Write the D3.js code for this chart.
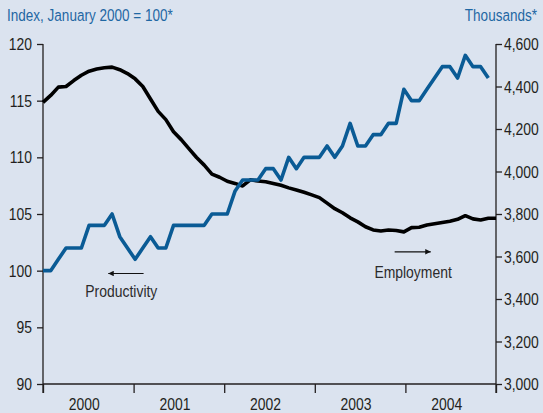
<!DOCTYPE html>
<html>
<head>
<meta charset="utf-8">
<script src="https://cdn.jsdelivr.net/npm/d3@7"></script>
<style>
  html, body { margin: 0; padding: 0; background: #dbe3ef; }
  svg { display: block; }
  text { font-family: "Liberation Sans", Arial, sans-serif; }
</style>
</head>
<body>
<svg id="chart" width="543" height="413"></svg>
<script>
// ---- data ----
const years = ["2000", "2001", "2002", "2003", "2004"];
const leftTicks = [90, 95, 100, 105, 110, 115, 120];
const rightTicks = [3000, 3200, 3400, 3600, 3800, 4000, 4200, 4400, 4600];
// Productivity index (Jan 2000 = 100), monthly Jan 2000 - Nov 2004 (left axis)
const productivity = [100,100,101,102,102,102,104,104,104,105,
                      103,102,101,102,103,102,102,104,104,104,
                      104,104,105,105,105,107,108,108,108,109,
                      109,108,110,109,110,110,110,111,110,111,
                      113,111,111,112,112,113,113,116,115,115,
                      116,117,118,118,117,119,118,118,117];
// Employment, thousands, monthly Jan 2000 - Dec 2004 (right axis)
const employment = [4325,4358,4397,4400,4428,4453,4472,4482,4488,4491,
                    4479,4461,4436,4400,4341,4283,4244,4187,4150,4108,
                    4066,4030,3988,3973,3954,3944,3932,3961,3955,3952,
                    3944,3935,3923,3913,3902,3890,3877,3851,3825,3806,
                    3782,3763,3740,3725,3720,3725,3722,3716,3736,3738,
                    3748,3754,3760,3766,3775,3792,3777,3772,3780,3780];

// ---- layout ----
const svg = d3.select("#chart");
const W = 543, H = 413;
const m = {left: 43, right: 47, top: 44, bottom: 29};
const x0 = m.left, x1 = W - m.right, y0 = H - m.bottom, y1 = m.top;
const tickDown = 9;
const fontSize = 17;
const squeeze = 0.82;   // condensed face
const ink = "#231f20";
const blue = "#0a5b95";
const titleBlue = "#1f67a3";

svg.append("rect").attr("width", W).attr("height", H).attr("fill", "#dbe3ef");

// condensed text helper
function ctext(parent, px, py, str, anchor, size, fill, dy) {
  return parent.append("text")
    .attr("transform", `translate(${px},${py}) scale(${squeeze},1)`)
    .attr("text-anchor", anchor || "start")
    .attr("dy", dy || 0)
    .attr("font-size", size)
    .attr("fill", fill)
    .text(str);
}

const x = d3.scaleLinear().domain([0, 59]).range([x0, x1]);
const xYear = d3.scaleLinear().domain([2000, 2005]).range([x0, x1]);
const band = d3.scaleBand().domain(years).range([x0, x1]);
const yL = d3.scaleLinear().domain([90, 120]).range([y0, y1]);
const yR = d3.scaleLinear().domain([3000, 4600]).range([y0, y1]);

// ---- axes (ticks) ----
const gL = svg.append("g").attr("transform", `translate(${x0},0)`)
  .call(d3.axisLeft(yL).tickValues(leftTicks).tickSize(6).tickSizeOuter(0).tickFormat(""));
const gR = svg.append("g").attr("transform", `translate(${x1},0)`)
  .call(d3.axisRight(yR).tickValues(rightTicks).tickSize(6).tickSizeOuter(0).tickFormat(""));
const gB = svg.append("g").attr("transform", `translate(0,${y0})`)
  .call(d3.axisBottom(xYear).tickValues(d3.range(2000, 2006)).tickSize(tickDown).tickSizeOuter(0).tickFormat(""));

[gL, gR, gB].forEach(g => {
  g.select(".domain").remove();
  g.selectAll("line").attr("stroke", ink).attr("stroke-width", 1.3);
  g.selectAll("text").remove();
});

// tick labels
const lblL = svg.append("g");
leftTicks.forEach(v => ctext(lblL, x0 - 11, yL(v), String(v), "end", fontSize, ink, "0.36em"));
const lblR = svg.append("g");
const fmt = d3.format(",");
rightTicks.forEach(v => ctext(lblR, x1 + 8, yR(v), fmt(v), "start", fontSize, ink, "0.36em"));

// axis lines
svg.append("line").attr("x1", x0).attr("x2", x0).attr("y1", yL(120)).attr("y2", y0 + tickDown)
  .attr("stroke", ink).attr("stroke-width", 1.3);
svg.append("line").attr("x1", x1).attr("x2", x1).attr("y1", yR(4600)).attr("y2", y0 + tickDown)
  .attr("stroke", ink).attr("stroke-width", 1.3);
svg.append("line").attr("x1", x0).attr("x2", x1).attr("y1", y0).attr("y2", y0)
  .attr("stroke", ink).attr("stroke-width", 1.3);

// year labels
const lblB = svg.append("g");
years.forEach(d => ctext(lblB, band(d) + band.bandwidth() / 2 - 4, y0 + 26, d, "middle", fontSize, ink));

// titles
ctext(svg, 7, 21, "Index, January 2000 = 100*", "start", 16.5, titleBlue);
ctext(svg, 537, 21, "Thousands*", "end", 16.5, titleBlue);

// ---- lines ----
const lineL = d3.line().x((d, i) => x(i)).y(d => yL(d));
const lineR = d3.line().x((d, i) => x(i)).y(d => yR(d));

svg.append("path").datum(employment).attr("d", lineR)
  .attr("fill", "none").attr("stroke", "#000").attr("stroke-width", 3.6)
  .attr("stroke-linejoin", "round").attr("stroke-linecap", "butt");
svg.append("path").datum(productivity).attr("d", lineL)
  .attr("fill", "none").attr("stroke", blue).attr("stroke-width", 3.6)
  .attr("stroke-linejoin", "round").attr("stroke-linecap", "butt");

// ---- annotations ----
const defs = svg.append("defs");
defs.append("marker").attr("id", "ah").attr("viewBox", "0 0 10 10")
  .attr("refX", 10).attr("refY", 5).attr("markerWidth", 7).attr("markerHeight", 5.5)
  .attr("markerUnits", "userSpaceOnUse").attr("orient", "auto")
  .append("path").attr("d", "M0,0 L10,5 L0,10 Z").attr("fill", "#111");

svg.append("line").attr("x1", x(13.1)).attr("x2", x(8.5)).attr("y1", yL(99.75)).attr("y2", yL(99.75))
  .attr("stroke", "#111").attr("stroke-width", 1.2).attr("marker-end", "url(#ah)");
ctext(svg, x(10.2), yL(97.72), "Productivity", "middle", fontSize, "#2b2b2b");

svg.append("line").attr("x1", x(45.8)).attr("x2", x(50.5)).attr("y1", yR(3622)).attr("y2", yR(3622))
  .attr("stroke", "#111").attr("stroke-width", 1.2).attr("marker-end", "url(#ah)");
ctext(svg, x(48.2), yR(3497), "Employment", "middle", fontSize, "#2b2b2b");
</script>
</body>
</html>
